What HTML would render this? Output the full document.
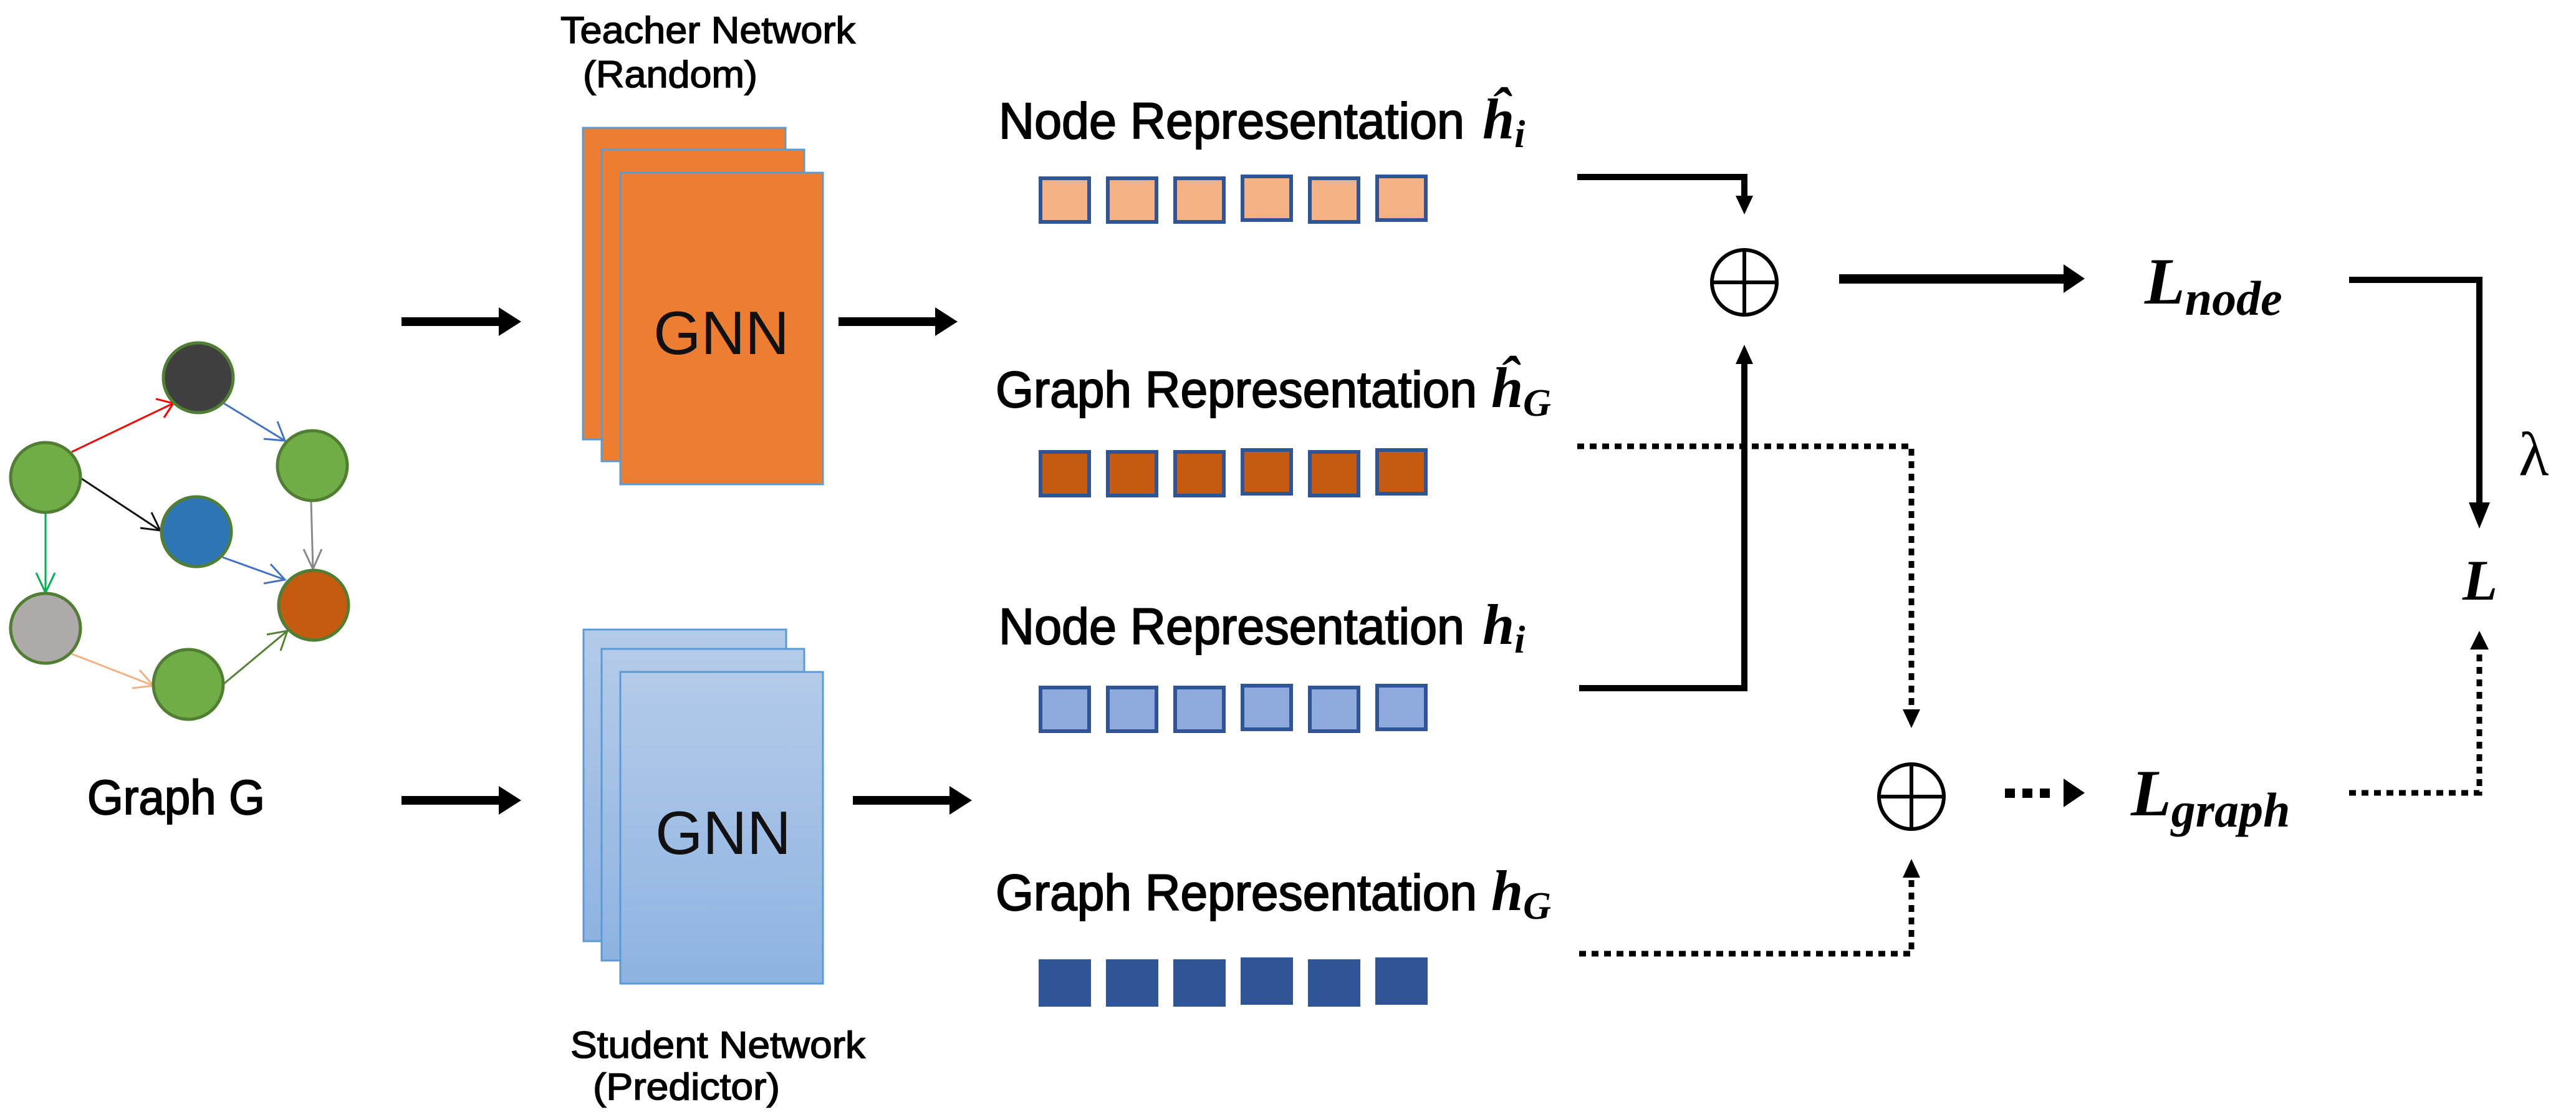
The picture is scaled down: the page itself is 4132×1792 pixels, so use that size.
<!DOCTYPE html>
<html><head><meta charset="utf-8"><style>html,body{margin:0;padding:0;background:#fff}svg{display:block}</style></head>
<body>
<svg width="4132" height="1792" viewBox="0 0 4132 1792" xmlns="http://www.w3.org/2000/svg">
<defs>
<linearGradient id="bg" x1="0" y1="0" x2="0" y2="1"><stop offset="0" stop-color="#B4CBE9"/><stop offset="1" stop-color="#8EB3E2"/></linearGradient>
</defs>
<rect width="4132" height="1792" fill="#fff"/>

<!-- graph edges -->
<g stroke-width="3" fill="none">
<line x1="115" y1="725" x2="278" y2="647" stroke="#FF0000"/><polyline points="250,640 278,647 263,670" stroke="#FF0000"/>
<line x1="359" y1="647" x2="457" y2="707" stroke="#4472C4"/><polyline points="423,704 457,707 445,676" stroke="#4472C4"/>
<line x1="131" y1="768" x2="257" y2="851" stroke="#111"/><polyline points="225,847 257,851 243,822" stroke="#111"/>
<line x1="499" y1="804" x2="502" y2="913" stroke="#888"/><polyline points="487,881 502,913 516,881" stroke="#888"/>
<line x1="357" y1="894" x2="457" y2="930" stroke="#4472C4"/><polyline points="423,936 457,930 434,905" stroke="#4472C4"/>
<line x1="73" y1="822" x2="73" y2="951" stroke="#00B050"/><polyline points="58,919 73,951 88,919" stroke="#00B050"/>
<line x1="115" y1="1049" x2="246" y2="1100" stroke="#F4B183"/><polyline points="212,1104 246,1100 224,1075" stroke="#F4B183"/>
<line x1="359" y1="1097" x2="461" y2="1012" stroke="#548235"/><polyline points="428,1018 461,1012 450,1044" stroke="#548235"/>
</g>
<g stroke="#507E32" stroke-width="5">
<circle cx="318" cy="606" r="56" fill="#3F3F3F"/>
<circle cx="73" cy="766" r="56" fill="#70AD47"/>
<circle cx="501" cy="747" r="56" fill="#70AD47"/>
<circle cx="315" cy="853" r="56" fill="#2E75B6"/>
<circle cx="503" cy="971" r="56" fill="#C55A11"/>
<circle cx="73" cy="1008" r="56" fill="#AEAAAA"/>
<circle cx="302" cy="1098" r="56" fill="#70AD47"/>
</g>
<text x="140" y="1306" font-family="Liberation Sans, sans-serif" font-size="78" stroke="#000" stroke-width="2" textLength="285" lengthAdjust="spacingAndGlyphs">Graph G</text>

<!-- arrows in/out of GNN -->
<g fill="#000">
<rect x="644" y="509" width="160" height="14"/><polygon points="800,493 836,516 800,539"/>
<rect x="1345" y="509" width="160" height="14"/><polygon points="1500,493 1536,516 1500,539"/>
<rect x="644" y="1277" width="160" height="14"/><polygon points="800,1261 836,1284 800,1307"/>
<rect x="1368" y="1277" width="160" height="14"/><polygon points="1523,1261 1559,1284 1523,1307"/>
</g>

<!-- Teacher stack -->
<g stroke="#5B9BD5" stroke-width="3" fill="#ED7D31">
<rect x="935" y="205" width="325" height="500"/>
<rect x="965" y="240" width="325" height="500"/>
<rect x="995" y="277" width="325" height="500"/>
</g>
<text x="1157" y="568" text-anchor="middle" font-family="Liberation Sans, sans-serif" font-size="98" fill="#111">GNN</text>
<text x="899" y="69" font-family="Liberation Sans, sans-serif" font-size="60" stroke="#000" stroke-width="1.5" textLength="473" lengthAdjust="spacingAndGlyphs">Teacher Network</text>
<text x="935" y="140" font-family="Liberation Sans, sans-serif" font-size="60" stroke="#000" stroke-width="1.5" textLength="280" lengthAdjust="spacingAndGlyphs">(Random)</text>

<!-- Student stack -->
<g stroke="#5B9BD5" stroke-width="3" fill="url(#bg)">
<rect x="936" y="1010" width="325" height="500"/>
<rect x="965" y="1041" width="325" height="500"/>
<rect x="995" y="1078" width="325" height="500"/>
</g>
<text x="1160" y="1370" text-anchor="middle" font-family="Liberation Sans, sans-serif" font-size="98" fill="#111">GNN</text>
<text x="915" y="1697" font-family="Liberation Sans, sans-serif" font-size="60" stroke="#000" stroke-width="1.5" textLength="473" lengthAdjust="spacingAndGlyphs">Student Network</text>
<text x="951" y="1764" font-family="Liberation Sans, sans-serif" font-size="60" stroke="#000" stroke-width="1.5" textLength="300" lengthAdjust="spacingAndGlyphs">(Predictor)</text>

<!-- representation labels -->
<g font-family="Liberation Sans, sans-serif" font-size="82" stroke="#000" stroke-width="2">
<text x="1602" y="222" textLength="747" lengthAdjust="spacingAndGlyphs">Node Representation</text>
<text x="1597" y="653" textLength="772" lengthAdjust="spacingAndGlyphs">Graph Representation</text>
<text x="1602" y="1033" textLength="747" lengthAdjust="spacingAndGlyphs">Node Representation</text>
<text x="1597" y="1460" textLength="772" lengthAdjust="spacingAndGlyphs">Graph Representation</text>
</g>
<g font-family="Liberation Serif, serif" font-weight="bold" font-style="italic">
<text x="2378" y="222" font-size="92">ĥ<tspan font-size="62" dy="14">i</tspan></text>
<text x="2392" y="653" font-size="92">ĥ<tspan font-size="62" dy="14">G</tspan></text>
<text x="2378" y="1033" font-size="92">h<tspan font-size="62" dy="14">i</tspan></text>
<text x="2392" y="1460" font-size="92">h<tspan font-size="62" dy="14">G</tspan></text>
</g>

<!-- squares -->
<g stroke="#2F5597" stroke-width="6">
<g fill="#F4B183">
<rect x="1669" y="286" width="78" height="70"/><rect x="1777" y="286" width="78" height="70"/><rect x="1885" y="286" width="78" height="70"/><rect x="1993" y="283" width="78" height="70"/><rect x="2101" y="286" width="78" height="70"/><rect x="2209" y="283" width="78" height="70"/>
</g>
<g fill="#C55A11">
<rect x="1669" y="725" width="78" height="70"/><rect x="1777" y="725" width="78" height="70"/><rect x="1885" y="725" width="78" height="70"/><rect x="1993" y="722" width="78" height="70"/><rect x="2101" y="725" width="78" height="70"/><rect x="2209" y="722" width="78" height="70"/>
</g>
<g fill="#8FAADC">
<rect x="1669" y="1103" width="78" height="70"/><rect x="1777" y="1103" width="78" height="70"/><rect x="1885" y="1103" width="78" height="70"/><rect x="1993" y="1100" width="78" height="70"/><rect x="2101" y="1103" width="78" height="70"/><rect x="2209" y="1100" width="78" height="70"/>
</g>
<g fill="#2F5597">
<rect x="1669" y="1542" width="78" height="70"/><rect x="1777" y="1542" width="78" height="70"/><rect x="1885" y="1542" width="78" height="70"/><rect x="1993" y="1539" width="78" height="70"/><rect x="2101" y="1542" width="78" height="70"/><rect x="2209" y="1539" width="78" height="70"/>
</g>
</g>

<!-- solid connectors -->
<g stroke="#000" stroke-width="10" fill="none">
<polyline points="2530,284 2798,284 2798,318"/>
<polyline points="2533,1104 2798,1104 2798,580"/>
<polyline points="3768,449 3977,449 3977,810"/>
</g>
<rect x="2950" y="440" width="364" height="15" fill="#000"/>
<g fill="#000">
<polygon points="2784,314 2812,314 2798,344"/>
<polygon points="2784,584 2812,584 2798,553"/>
<polygon points="3310,424 3344,447 3310,470"/>
<polygon points="3960,806 3994,806 3977,848"/>
</g>

<!-- circled plus -->
<g stroke="#000" stroke-width="6" fill="none">
<circle cx="2798" cy="453" r="52"/><line x1="2746" y1="453" x2="2850" y2="453"/><line x1="2798" y1="401" x2="2798" y2="505"/>
<circle cx="3066" cy="1278" r="52"/><line x1="3014" y1="1278" x2="3118" y2="1278"/><line x1="3066" y1="1226" x2="3066" y2="1330"/>
</g>

<!-- dotted connectors -->
<g stroke="#000" stroke-width="9" fill="none" stroke-dasharray="11 9">
<polyline points="2530,716 3066,716 3066,1140"/>
<polyline points="2533,1530 3066,1530 3066,1405"/>
<polyline points="3768,1272 3977,1272 3977,1040"/>
</g>
<g fill="#000">
<polygon points="3052,1138 3080,1138 3066,1168"/>
<polygon points="3052,1408 3080,1408 3066,1378"/>
<polygon points="3962,1042 3992,1042 3977,1012"/>
<rect x="3216" y="1265" width="16" height="15"/><rect x="3244" y="1265" width="16" height="15"/><rect x="3272" y="1265" width="16" height="15"/>
<polygon points="3310,1249 3344,1272 3310,1295"/>
</g>

<!-- loss labels -->
<g font-family="Liberation Serif, serif" font-weight="bold" font-style="italic">
<text x="3440" y="487" font-size="106">L<tspan font-size="78" dy="18">node</tspan></text>
<text x="3418" y="1308" font-size="106">L<tspan font-size="78" dy="18">graph</tspan></text>
<text x="3950" y="962" font-size="92">L</text>
</g>
<text x="4040" y="762" font-family="Liberation Serif, serif" font-size="100">λ</text>
</svg>
</body></html>
